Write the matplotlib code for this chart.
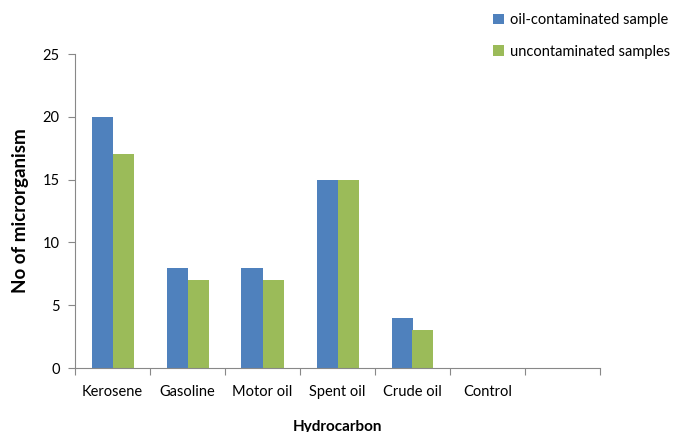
import matplotlib.pyplot as plt
import numpy as np

categories = ['Kerosene', 'Gasoline', 'Motor oil', 'Spent oil', 'Crude oil', 'Control', '']
oil_contaminated = [20, 8, 8, 15, 4, 0, 0]
uncontaminated = [17, 7, 7, 15, 3, 0, 0]
series_names = ['oil-contaminated sample', 'uncontaminated samples']

plt.rcParams['font.family'] = ['Lato', 'DejaVu Sans']

fig = plt.figure(figsize=(6.73, 4.32), dpi=100)
ax = fig.add_axes([75/673, 1-368/432, 525/673, 314/432])

x = np.arange(len(categories))
w = 0.28
ax.bar(x - w/2, oil_contaminated, w, color='#4F81BD', label=series_names[0])
ax.bar(x + w/2, uncontaminated, w, color='#9BBB59', label=series_names[1])

ax.set_xlim(-0.5, len(categories) - 0.5)
ax.set_ylim(0, 25)
ax.set_yticks([0, 5, 10, 15, 20, 25])
ax.set_xticks(np.arange(len(categories) + 1) - 0.5)
ax.set_xticklabels([])
ax.set_xticks(x, minor=True)
ax.set_xticklabels(categories, minor=True)
ax.tick_params(axis='x', which='minor', length=0, pad=12, labelsize=10.5)
ax.tick_params(axis='x', which='major', length=5, color='#888888')
ax.tick_params(axis='y', length=5, color='#888888', labelsize=10.5, pad=6)

for s in ['top', 'right']:
    ax.spines[s].set_visible(False)
for s in ['left', 'bottom']:
    ax.spines[s].set_color('#888888')

ax.set_ylabel('No of microrganism', fontsize=13.5, fontweight='bold', labelpad=10)
ax.set_xlabel('Hydrocarbon', fontsize=11, fontweight='bold', labelpad=15)

fig.legend(loc='upper left', bbox_to_anchor=(480/673, 1.0), frameon=False,
           fontsize=10.5, handlelength=0.75, handleheight=0.75, handletextpad=0.4,
           labelspacing=1.2)

fig.savefig('out.png', dpi=100)
